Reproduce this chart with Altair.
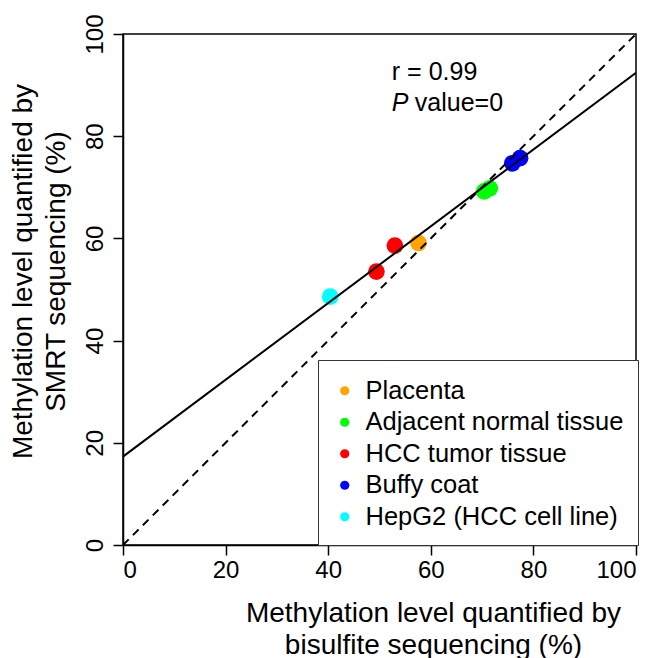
import altair as alt
import pandas as pd

groups = ["Placenta", "Adjacent normal tissue", "HCC tumor tissue", "Buffy coat", "HepG2 (HCC cell line)"]
colors = ["#FFA500", "#00FF00", "#FF0000", "#0000FF", "#00FFFF"]

pt_group = ["HepG2 (HCC cell line)", "HCC tumor tissue", "HCC tumor tissue", "Placenta",
            "Adjacent normal tissue", "Adjacent normal tissue", "Buffy coat", "Buffy coat"]
pt_bisulfite = [40.4, 49.4, 53.0, 57.6, 70.4, 71.5, 75.9, 77.4]
pt_smrt = [48.6, 53.5, 58.6, 59.1, 69.2, 69.8, 74.7, 75.7]

reg_x = [0, 100]
reg_y = [17.3, 92.4]
id_x = [0, 100]
id_y = [0, 100]

ticks = [0, 20, 40, 60, 80, 100]

pts = pd.DataFrame({"x": pt_bisulfite, "y": pt_smrt, "g": pt_group})
reg = pd.DataFrame({"x": reg_x, "y": reg_y})
ident = pd.DataFrame({"x": id_x, "y": id_y})

FONT = "Liberation Sans"

xscale = alt.Scale(domain=[0, 100], nice=False, zero=False)
yscale = alt.Scale(domain=[0, 100], nice=False, zero=False)

xaxis = alt.Axis(
    values=ticks, grid=False, labelFontSize=24, labelPadding=3, tickSize=10,
    tickColor="black", domainColor="black", tickWidth=1.5, domainWidth=1.5,
    labelColor="black", labelFont=FONT, titleFont=FONT, titleColor="black",
    title=["Methylation level quantified by", "bisulfite sequencing (%)"],
    titleFontSize=28, titleFontWeight="normal", titleX=310, titleY=54,
    titleBaseline="top", titleAlign="center", titleLineHeight=32,
)
yaxis = alt.Axis(
    values=ticks, grid=False, labelFontSize=24, labelPadding=6, tickSize=10,
    tickColor="black", domainColor="black", tickWidth=1.5, domainWidth=1.5,
    labelColor="black", labelFont=FONT, titleFont=FONT, titleColor="black",
    labelAngle=270, labelAlign="center", labelBaseline="bottom",
    title=["Methylation level quantified by", "SMRT sequencing (%)"],
    titleFontSize=28, titleFontWeight="normal", titleX=-114, titleY=237,
    titleAngle=270, titleBaseline="top", titleAlign="center", titleLineHeight=33,
)

points = alt.Chart(pts).mark_circle(size=280, opacity=1).encode(
    x=alt.X("x:Q", scale=xscale, axis=xaxis),
    y=alt.Y("y:Q", scale=yscale, axis=yaxis),
    color=alt.Color(
        "g:N",
        scale=alt.Scale(domain=groups, range=colors),
        legend=alt.Legend(
            title=" ", titleFontSize=4, titlePadding=0,
            orient="none", legendX=195, legendY=326,
            strokeColor="#333333", fillColor="white", padding=14,
            labelFontSize=25.5, labelFont=FONT, labelColor="black",
            symbolType="circle", symbolSize=85, symbolStrokeWidth=0,
            labelOffset=8, rowPadding=4.5, labelLimit=400,
        ),
    ),
)

line = alt.Chart(reg).mark_line(color="black", strokeWidth=2, clip=True).encode(
    x=alt.X("x:Q", scale=xscale), y=alt.Y("y:Q", scale=yscale)
)
dash = alt.Chart(ident).mark_line(color="black", strokeWidth=2, strokeDash=[8, 6], clip=True).encode(
    x=alt.X("x:Q", scale=xscale), y=alt.Y("y:Q", scale=yscale)
)

ann = pd.DataFrame({"x": [52.4], "y": [91.0], "t": ["r = 0.99"]})
ann_p = pd.DataFrame({"x": [52.4], "y": [85.0], "t": ["P"]})
ann_v = pd.DataFrame({"x": [52.4], "y": [85.0], "t": ["value=0"]})

t1 = alt.Chart(ann).mark_text(align="left", baseline="alphabetic", fontSize=25, font=FONT, color="black").encode(
    x="x:Q", y="y:Q", text="t:N")
t2 = alt.Chart(ann_p).mark_text(align="left", baseline="alphabetic", fontSize=25, font=FONT, fontStyle="italic", color="black").encode(
    x="x:Q", y="y:Q", text="t:N")
t3 = alt.Chart(ann_v).mark_text(align="left", baseline="alphabetic", fontSize=25, font=FONT, color="black", dx=23).encode(
    x="x:Q", y="y:Q", text="t:N")

chart = alt.layer(points, line, dash, t1, t2, t3).properties(
    width=513, height=511,
    autosize=alt.AutoSizeParams(type="none"),
    padding={"left": 115, "top": 26, "right": 14, "bottom": 113},
).configure_view(stroke="black", strokeWidth=1.5)

chart.save("out.html", embed_options={"renderer": "svg", "actions": False})
